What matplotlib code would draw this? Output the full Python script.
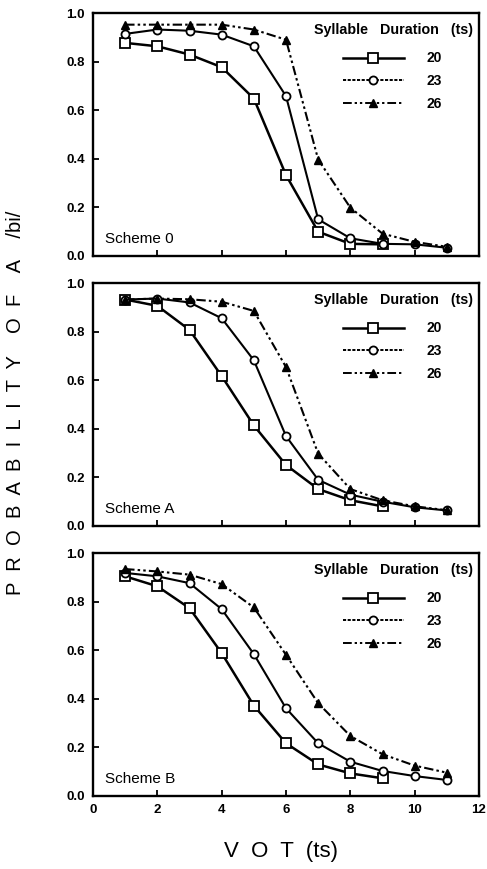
import matplotlib
matplotlib.use('Agg')
import matplotlib.pyplot as plt
from matplotlib.lines import Line2D

plt.rcParams['font.family'] = ['Liberation Sans', 'DejaVu Sans']

# ---- data ----
vot_short = [1, 2, 3, 4, 5, 6, 7, 8, 9]
vot_long = [1, 2, 3, 4, 5, 6, 7, 8, 9, 10, 11]
durations = ['20', '23', '26']
schemes = ['Scheme 0', 'Scheme A', 'Scheme B']

scheme0_20 = [0.877, 0.863, 0.829, 0.777, 0.648, 0.333, 0.100, 0.050, 0.048]
scheme0_23 = [0.914, 0.932, 0.927, 0.911, 0.863, 0.658, 0.151, 0.073, 0.050, 0.048, 0.034]
scheme0_26 = [0.952, 0.952, 0.952, 0.952, 0.932, 0.890, 0.397, 0.199, 0.092, 0.058, 0.038]

schemeA_20 = [0.932, 0.906, 0.807, 0.617, 0.414, 0.251, 0.152, 0.106, 0.081]
schemeA_23 = [0.932, 0.936, 0.920, 0.855, 0.682, 0.370, 0.190, 0.129, 0.100, 0.077, 0.064]
schemeA_26 = [0.932, 0.936, 0.933, 0.923, 0.885, 0.654, 0.298, 0.152, 0.106, 0.081, 0.065]

schemeB_20 = [0.904, 0.863, 0.773, 0.588, 0.372, 0.217, 0.130, 0.093, 0.073]
schemeB_23 = [0.918, 0.904, 0.876, 0.769, 0.584, 0.361, 0.217, 0.141, 0.103, 0.082, 0.066]
schemeB_26 = [0.934, 0.924, 0.911, 0.872, 0.776, 0.581, 0.382, 0.247, 0.172, 0.125, 0.096]

panels = [
    (scheme0_20, scheme0_23, scheme0_26),
    (schemeA_20, schemeA_23, schemeA_26),
    (schemeB_20, schemeB_23, schemeB_26),
]

xticks = [0, 2, 4, 6, 8, 10, 12]
yticks = [0.0, 0.2, 0.4, 0.6, 0.8, 1.0]

# dash-dot-dot style for 26
ddot = (0, (4.5, 1.5, 1.2, 1.5, 1.2, 1.5))

W, H = 487, 869
fig = plt.figure(figsize=(W / 100, H / 100), dpi=100)

left = 93 / W
width = (479 - 93) / W
tops = [13, 283, 553]
ph = 243

for i, (y20, y23, y26) in enumerate(panels):
    ax = fig.add_axes([left, 1 - (tops[i] + ph) / H, width, ph / H])

    ax.plot(vot_short, y20, color='black', lw=1.8, ls='-',
            marker='s', ms=6.5, mfc='white', mec='black', mew=1.3, zorder=3)
    ax.plot(vot_long, y23, color='black', lw=1.5, ls='-',
            marker='o', ms=5.8, mfc='white', mec='black', mew=1.3, zorder=3)
    ax.plot(vot_long, y26, color='black', lw=1.5, ls=ddot,
            marker='^', ms=6.3, mfc='black', mec='black', zorder=4)

    ax.set_xlim(0, 12)
    ax.set_ylim(0, 1.0)
    ax.set_xticks(xticks)
    ax.set_yticks(yticks)
    ax.tick_params(direction='in', length=4.5, width=1.3, top=False, right=False)
    ax.tick_params(axis='y', labelsize=9.5, pad=6)
    ax.tick_params(axis='x', labelsize=9.5, pad=6)
    ax.set_yticklabels([f'{t:.1f}' for t in yticks], fontweight='bold')
    if i == 2:
        ax.set_xticklabels([str(t) for t in xticks], fontweight='bold')
    else:
        ax.set_xticklabels([])
    for s in ax.spines.values():
        s.set_linewidth(1.7)

    handles = [
        Line2D([], [], color='black', lw=1.8, ls='-', marker='s', ms=6.5,
               mfc='white', mec='black', mew=1.3),
        Line2D([], [], color='black', lw=1.4, ls=(0, (1.6, 0.8)), marker='o', ms=5.8,
               mfc='white', mec='black', mew=1.3),
        Line2D([], [], color='black', lw=1.4, ls=ddot, marker='^', ms=6.3,
               mfc='black', mec='black'),
    ]
    ax.text(0.778, 1 - 17 / ph, 'Syllable   Duration   (ts)', transform=ax.transAxes,
            ha='center', va='center', fontsize=10.3, fontweight='bold')
    leg = ax.legend(handles, durations, loc='center',
                    bbox_to_anchor=(0.775, 1 - 68 / ph),
                    frameon=False, handlelength=4.4, handletextpad=1.6,
                    labelspacing=0.62, borderpad=0, borderaxespad=0,
                    prop={'size': 10, 'weight': 'bold'})

    ax.text(0.03, 0.04, schemes[i], transform=ax.transAxes,
            fontsize=11, ha='left', va='bottom')

fig.text(0.031, 0.537,
         'P  R  O  B  A  B  I  L  I  T  Y    O  F    A    /bi/',
         rotation=90, ha='center', va='center', fontsize=14.5)
fig.text(0.577, 0.0196, 'V  O  T  (ts)', ha='center', va='center', fontsize=16)

fig.savefig('out.png', dpi=100)
